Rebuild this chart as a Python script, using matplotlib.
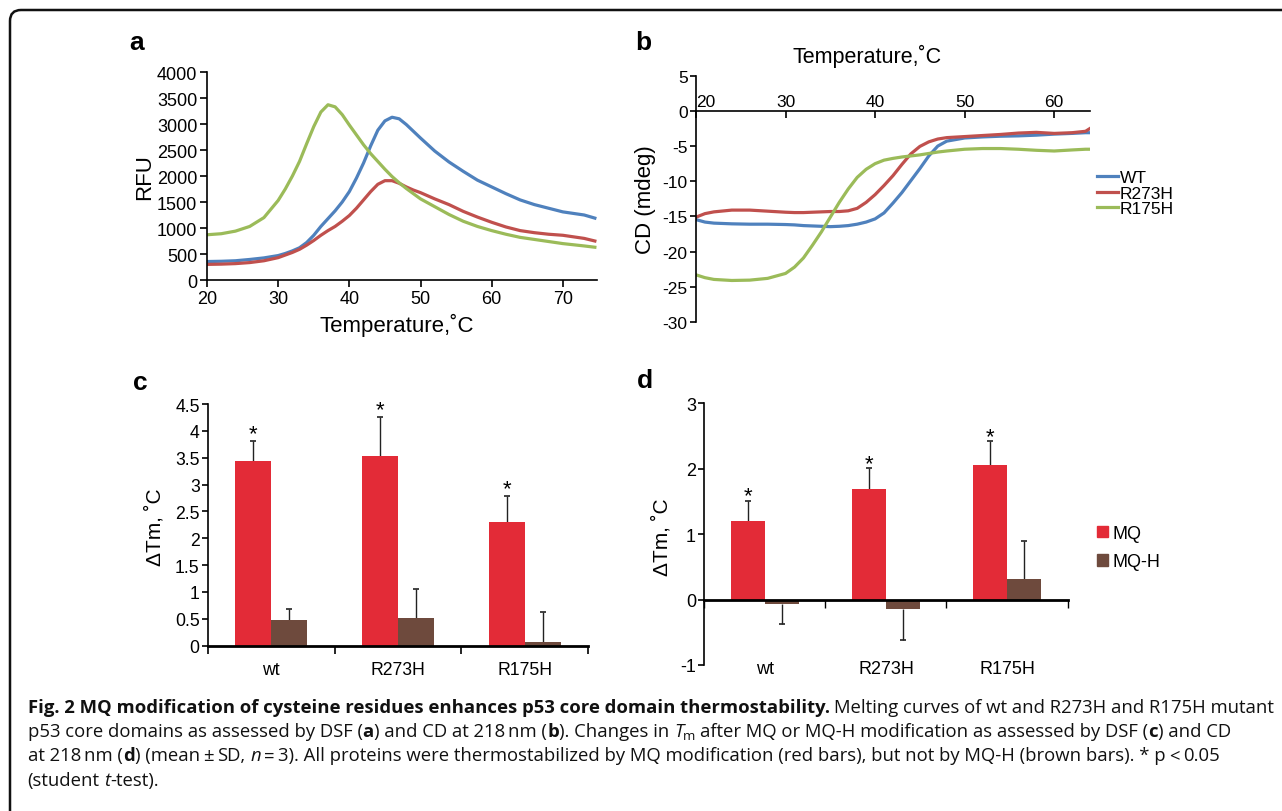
import matplotlib
matplotlib.use('Agg')
import matplotlib.pyplot as plt
from matplotlib.patches import FancyBboxPatch, Patch
import numpy as np

plt.rcParams['font.family'] = ['Liberation Sans', 'DejaVu Sans']
plt.rcParams['axes.linewidth'] = 1.2
plt.rcParams['axes.unicode_minus'] = False

# ---- data ----
# (a) DSF melting curves
temp_a = [20, 22, 24, 26, 28, 30, 31, 32, 33, 34, 35, 36, 37, 38, 39, 40, 41, 42, 43, 44,
          45, 46, 47, 48, 49, 50, 52, 54, 56, 58, 60, 62, 64, 66, 68, 70, 72, 73, 74.5]
rfu_wt = [355, 360, 370, 395, 425, 470, 510, 560, 620, 720, 860, 1030, 1180, 1330, 1500, 1700,
          1960, 2250, 2580, 2880, 3060, 3130, 3100, 2990, 2860, 2730, 2480, 2270, 2090, 1920,
          1790, 1660, 1540, 1450, 1380, 1310, 1270, 1250, 1190]
rfu_r273h = [300, 305, 315, 335, 370, 430, 480, 530, 590, 670, 760, 860, 950, 1030, 1130, 1240,
             1380, 1540, 1700, 1840, 1910, 1910, 1860, 1790, 1730, 1680, 1560, 1450, 1320, 1210,
             1110, 1020, 950, 910, 880, 860, 820, 800, 750]
rfu_r175h = [870, 890, 940, 1030, 1200, 1530, 1750, 2000, 2280, 2620, 2950, 3230, 3370, 3330,
             3180, 2980, 2790, 2600, 2430, 2280, 2130, 1990, 1870, 1760, 1660, 1560, 1410, 1260,
             1130, 1030, 950, 880, 820, 780, 740, 700, 670, 655, 630]

# (b) CD at 218 nm
temp_b = [20, 21, 22, 24, 26, 28, 30, 31, 32, 33, 34, 35, 36, 37, 38, 39, 40, 41, 42, 43, 44,
          45, 46, 47, 48, 50, 52, 54, 56, 58, 60, 62, 63.5, 64]
cd_wt = [-15.45, -15.8, -15.95, -16.05, -16.1, -16.1, -16.15, -16.2, -16.3, -16.35, -16.4,
         -16.45, -16.4, -16.3, -16.1, -15.8, -15.35, -14.5, -13.1, -11.6, -9.9, -8.2, -6.4,
         -5.0, -4.3, -3.85, -3.7, -3.6, -3.55, -3.45, -3.3, -3.2, -3.1, -3.1]
cd_r273h = [-15.1, -14.6, -14.35, -14.1, -14.1, -14.25, -14.4, -14.45, -14.45, -14.4, -14.35,
            -14.3, -14.3, -14.2, -13.85, -13.0, -11.9, -10.6, -9.2, -7.6, -6.1, -5.05, -4.4,
            -4.0, -3.8, -3.65, -3.5, -3.35, -3.15, -3.05, -3.2, -3.1, -2.9, -2.5]
cd_r175h = [-23.3, -23.7, -23.95, -24.1, -24.05, -23.8, -23.1, -22.2, -20.9, -19.1, -17.2,
            -15.1, -13.0, -11.1, -9.45, -8.3, -7.5, -7.0, -6.75, -6.55, -6.4, -6.25, -6.05,
            -5.85, -5.7, -5.45, -5.35, -5.35, -5.45, -5.6, -5.7, -5.55, -5.45, -5.45]

# (c) dTm by DSF, (d) dTm by CD
groups = ['wt', 'R273H', 'R175H']
dsf_mq = [3.43, 3.53, 2.30]
dsf_mq_err = [0.38, 0.72, 0.48]
dsf_mqh = [0.47, 0.52, 0.06]
dsf_mqh_err = [0.21, 0.53, 0.56]

cd_mq = [1.20, 1.69, 2.05]
cd_mq_err = [0.31, 0.32, 0.37]
cd_mqh = [-0.07, -0.14, 0.32]
cd_mqh_err = [0.31, 0.48, 0.57]

BLUE, RED, GREEN = '#4F81BD', '#C0504D', '#9BBB59'
BAR_RED, BAR_BROWN = '#E32B37', '#6E4A3D'
ERR = '#222222'

W, H = 1282, 812


def px_rect(left, top, right, bottom):
    return [left / W, 1 - bottom / H, (right - left) / W, (bottom - top) / H]


fig = plt.figure(figsize=(W / 100, H / 100), dpi=100)

# rounded frame, open to the right and bottom
fig.add_artist(FancyBboxPatch((0.10, -0.5), 13.5, 8.01 + 0.5,
                              boxstyle='round,pad=0,rounding_size=0.11',
                              transform=fig.dpi_scale_trans, fill=False,
                              edgecolor='#111111', linewidth=1.8))

for lab, (x, y) in zip('abcd', [(137, 43), (643, 43), (140, 383), (645, 381)]):
    fig.text(x / W, 1 - y / H, lab, fontsize=19, fontweight='bold',
             ha='center', va='center')

# ---------------- panel a ----------------
ax = fig.add_axes(px_rect(207, 73, 597, 281))
ax.plot(temp_a, rfu_wt, color=BLUE, lw=2.3)
ax.plot(temp_a, rfu_r273h, color=RED, lw=2.3)
ax.plot(temp_a, rfu_r175h, color=GREEN, lw=2.3)
ax.set_xlim(20, 74.8)
ax.set_ylim(0, 4000)
ax.set_xticks(range(20, 71, 10))
ax.set_yticks(range(0, 4001, 500))
for s in ['top', 'right']:
    ax.spines[s].set_visible(False)
ax.tick_params(direction='out', length=5, width=1.2, labelsize=13, pad=2)
ax.set_xlabel('Temperature,˚C', fontsize=16)
ax.xaxis.set_label_coords((397 - 207) / 390, (281 - 325) / 208)
ax.xaxis.label.set_va('center')
ax.set_ylabel('RFU', fontsize=16)
ax.yaxis.set_label_coords((145 - 207) / 390, (281 - 177) / 208)
ax.yaxis.label.set_va('center')

# ---------------- panel b ----------------
ax = fig.add_axes(px_rect(696, 76.7, 1090, 323))
ax.plot(temp_b, cd_wt, color=BLUE, lw=2.3, label='WT')
ax.plot(temp_b, cd_r273h, color=RED, lw=2.3, label='R273H')
ax.plot(temp_b, cd_r175h, color=GREEN, lw=2.3, label='R175H')
ax.set_xlim(20, 64)
ax.set_ylim(-30, 5)
ax.set_xticks(range(20, 61, 10))
ax.set_yticks(range(-30, 6, 5))
ax.spines['bottom'].set_visible(False)
ax.spines['right'].set_visible(False)
ax.spines['top'].set_position(('data', 0))
ax.xaxis.set_ticks_position('top')
ax.tick_params(axis='x', direction='in', length=5, width=1.2, labelsize=12.5,
               labeltop=True, labelbottom=False, pad=1)
ax.tick_params(axis='y', direction='out', length=4, width=1.2, labelsize=12.5, pad=2)
ax.get_xticklabels()[0].set_ha('left')
ax.xaxis.set_label_position('top')
ax.set_xlabel('Temperature,˚C', fontsize=15.5)
ax.xaxis.set_label_coords((867 - 696) / 394, (323 - 56) / 246.3)
ax.xaxis.label.set_va('center')
ax.set_ylabel('CD (mdeg)', fontsize=16)
ax.yaxis.set_label_coords((645 - 696) / 394, (323 - 200) / 246.3)
ax.yaxis.label.set_va('center')
ax.legend(loc='center left', bbox_to_anchor=(1097 / W, 1 - 194 / H),
          bbox_transform=fig.transFigure, frameon=False, fontsize=12.5,
          borderpad=0, borderaxespad=0, handlelength=1.2, handletextpad=0.1,
          labelspacing=0.0)


def draw_errors(ax, xs, vals, errs):
    tips = [v + e if v >= 0 else v - e for v, e in zip(vals, errs)]
    ax.vlines(xs, vals, tips, colors=ERR, lw=1.0, zorder=1)
    ax.plot(xs, tips, ls='none', marker='_', ms=5, mew=1.2, color=ERR, zorder=1)
    return tips


x = np.arange(len(groups))
bw = 0.284

# ---------------- panel c ----------------
ax = fig.add_axes(px_rect(208, 405, 588, 646.7))
ax.bar(x - bw / 2, dsf_mq, bw, color=BAR_RED, zorder=2)
ax.bar(x + bw / 2, dsf_mqh, bw, color=BAR_BROWN, zorder=2)
tips = draw_errors(ax, x - bw / 2, dsf_mq, dsf_mq_err)
draw_errors(ax, x + bw / 2, dsf_mqh, dsf_mqh_err)
for xi, t in zip(x - bw / 2, tips):
    ax.annotate('*', (xi, t), xytext=(0, 1.5), textcoords='offset points',
                ha='center', va='baseline', fontsize=16)
ax.set_xlim(-0.5, 2.5)
ax.set_ylim(0, 4.5)
yt = np.arange(0, 4.51, 0.5)
ax.set_yticks(yt)
ax.set_yticklabels([f'{v:g}' for v in yt])
ax.set_xticks([-0.5, 0.5, 1.5, 2.5])
ax.set_xticklabels([])
ax.set_xticks(x, minor=True)
ax.set_xticklabels(groups, minor=True)
for s in ['top', 'right']:
    ax.spines[s].set_visible(False)
ax.spines['bottom'].set_linewidth(2)
ax.tick_params(axis='x', which='major', direction='out', length=6, width=1.2)
ax.tick_params(axis='x', which='minor', length=0, labelsize=12.7, pad=11)
ax.tick_params(axis='y', direction='out', length=4, width=1.2, labelsize=12.7, pad=2)
ax.set_ylabel('ΔTm, ˚C', fontsize=15)
ax.yaxis.set_label_coords((155 - 208) / 380, (646.7 - 527) / 241.7)
ax.yaxis.label.set_va('center')

# ---------------- panel d ----------------
ax = fig.add_axes(px_rect(704.4, 404.3, 1067.5, 666))
ax.bar(x - bw / 2, cd_mq, bw, color=BAR_RED, zorder=2, label='MQ')
ax.bar(x + bw / 2, cd_mqh, bw, color=BAR_BROWN, zorder=2, label='MQ-H')
tips = draw_errors(ax, x - bw / 2, cd_mq, cd_mq_err)
draw_errors(ax, x + bw / 2, cd_mqh, cd_mqh_err)
for xi, t in zip(x - bw / 2, tips):
    ax.annotate('*', (xi, t), xytext=(0, -0.5), textcoords='offset points',
                ha='center', va='baseline', fontsize=16)
ax.set_xlim(-0.5, 2.5)
ax.set_ylim(-1, 3)
ax.set_yticks(range(-1, 4))
ax.set_xticks([-0.5, 0.5, 1.5, 2.5])
ax.set_xticklabels([])
for s in ['top', 'right']:
    ax.spines[s].set_visible(False)
ax.spines['bottom'].set_position(('data', 0))
ax.spines['bottom'].set_linewidth(2)
ax.tick_params(axis='x', direction='out', length=6, width=1.0)
ax.tick_params(axis='y', direction='out', length=4, width=1.2, labelsize=13, pad=2)
for xi, g in zip(x, groups):
    ax.text(xi, -0.012, g, transform=ax.get_xaxis_transform(), ha='center',
            va='center', fontsize=13)
ax.set_ylabel('ΔTm, ˚C', fontsize=15)
ax.yaxis.set_label_coords((662 - 704.4) / 363.1, (666 - 537) / 261.7)
ax.yaxis.label.set_va('center')
ax.legend(handles=[Patch(color=BAR_RED, label='MQ'), Patch(color=BAR_BROWN, label='MQ-H')],
          loc='center left', bbox_to_anchor=(1097 / W, 1 - 548.5 / H),
          bbox_transform=fig.transFigure, frameon=False, fontsize=13,
          borderpad=0, borderaxespad=0, handlelength=0.6, handleheight=0.6,
          handletextpad=0.25, labelspacing=0.65)

# ---------------- caption ----------------
CAP_FONT = 'Open Sans'
CAP_SIZE = 13.3
renderer = fig.canvas.get_renderer()


def text_width(s, **kw):
    t = fig.text(0, 0, s, fontsize=kw.pop('fontsize', CAP_SIZE), family=CAP_FONT, **kw)
    w = t.get_window_extent(renderer).width
    t.remove()
    return w


space_w = text_width('a a') - text_width('aa')


def caption_line(y, segments, x=27.5):
    for s, style in segments:
        if style == 'gap':
            x += space_w * 0.7
            continue
        kw = {'fontsize': CAP_SIZE}
        yy = y
        if style == 'b':
            kw['fontweight'] = 'bold'
        elif style == 'i':
            kw['fontstyle'] = 'italic'
        elif style == 'sub':
            kw['fontsize'] = CAP_SIZE * 0.72
            yy = y + 3.5
        lead = len(s) - len(s.lstrip(' '))
        trail = len(s) - len(s.rstrip(' '))
        x += lead * space_w
        core = s.strip(' ')
        t = fig.text(x / W, 1 - yy / H, core, family=CAP_FONT, ha='left',
                     va='baseline', color='#111111', **kw)
        x += t.get_window_extent(renderer).width + trail * space_w


caption_line(713, [
    ('Fig. 2 MQ modification of cysteine residues enhances p53 core domain thermostability.', 'b'),
    (' Melting curves of wt and R273H and R175H mutant', 'r')])
caption_line(737, [
    ('p53 core domains as assessed by DSF (', 'r'), ('a', 'b'), (') and CD at 218', 'r'),
    ('', 'gap'), ('nm (', 'r'), ('b', 'b'), ('). Changes in ', 'r'), ('T', 'i'), ('m', 'sub'),
    (' after MQ or MQ-H modification as assessed by DSF (', 'r'), ('c', 'b'),
    (') and CD', 'r')])
caption_line(761.5, [
    ('at 218', 'r'), ('', 'gap'), ('nm (', 'r'), ('d', 'b'), (') (mean', 'r'), ('', 'gap'),
    ('±', 'r'), ('', 'gap'), ('SD, ', 'r'), ('n', 'i'), ('', 'gap'), ('=', 'r'), ('', 'gap'),
    ('3). All proteins were thermostabilized by MQ modification (red bars), but not by MQ-H '
     '(brown bars). * p', 'r'), ('', 'gap'), ('<', 'r'), ('', 'gap'), ('0.05', 'r')])
caption_line(786, [('(student ', 'r'), ('t', 'i'), ('-test).', 'r')])

fig.savefig('out.png', dpi=100)
